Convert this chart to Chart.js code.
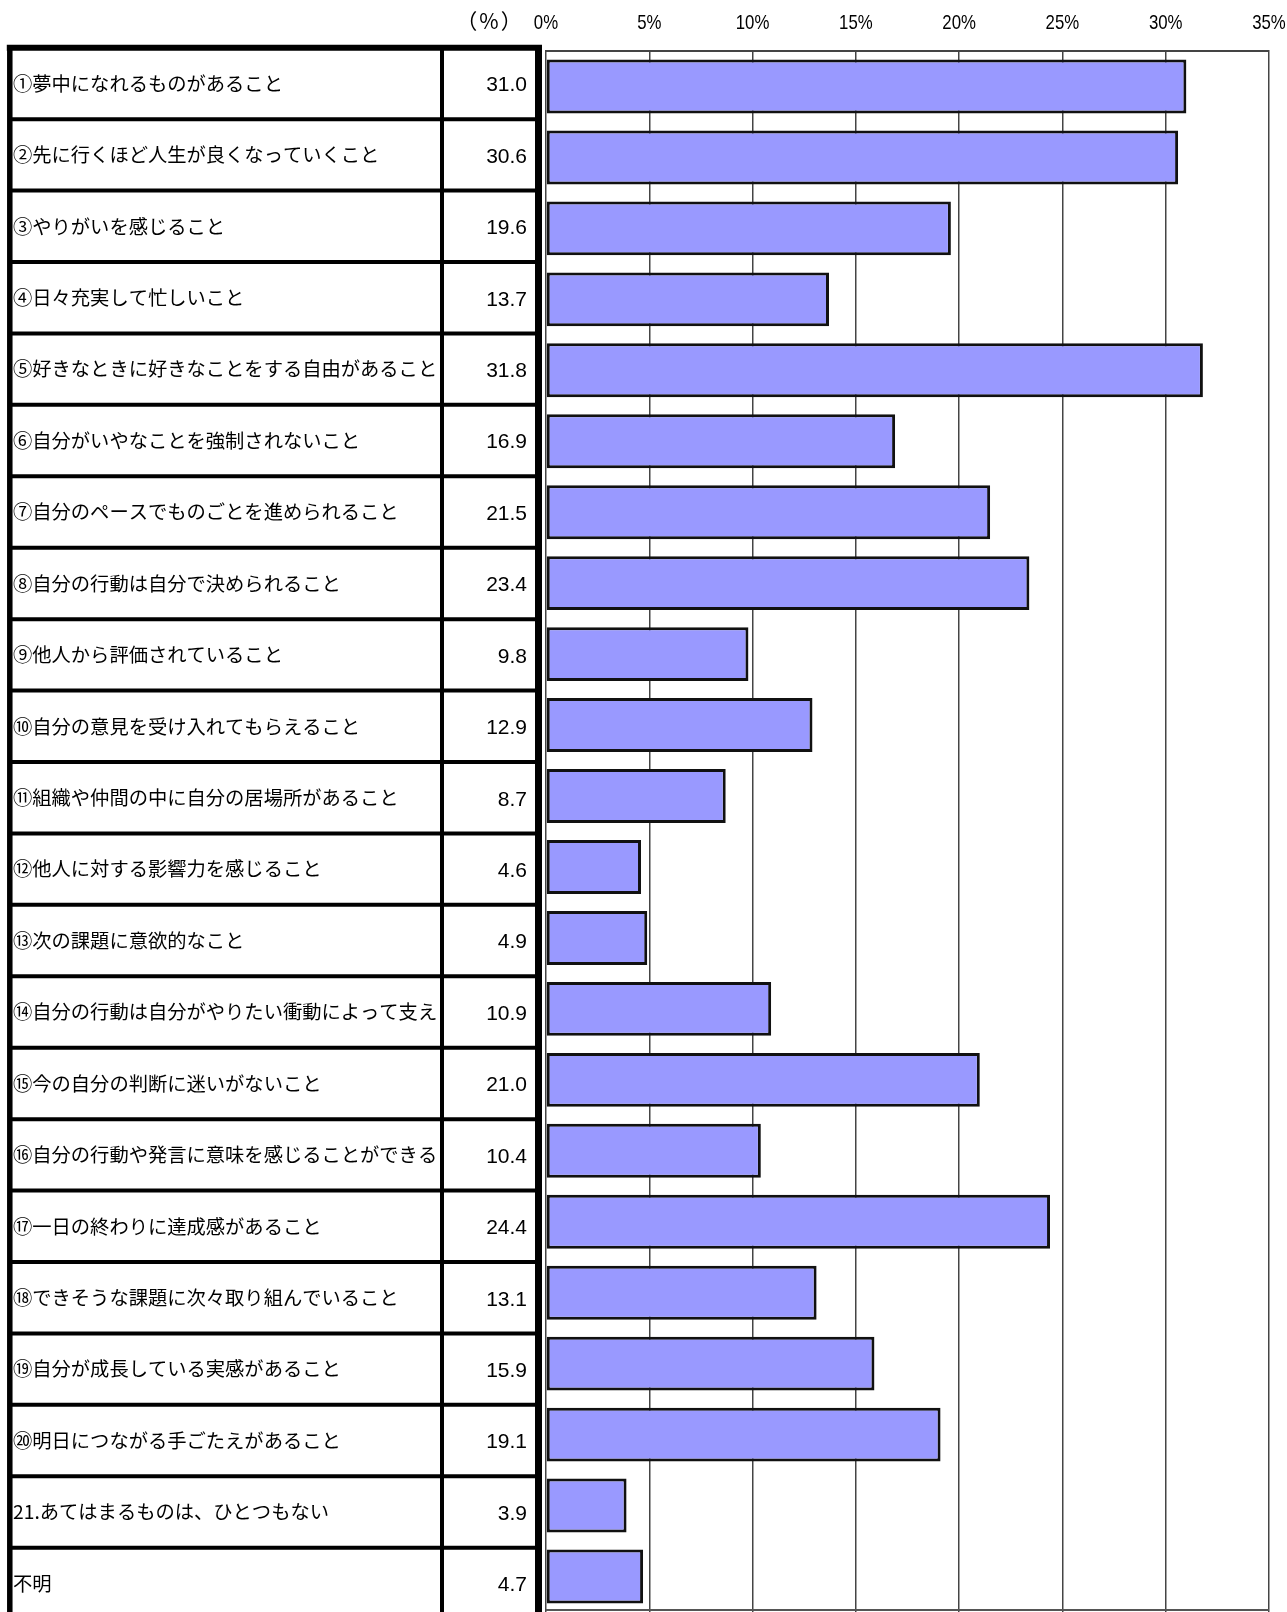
<!DOCTYPE html>
<html lang="ja">
<head>
<meta charset="utf-8">
<title>chart</title>
<script src="https://cdn.jsdelivr.net/npm/chart.js@4.4.1/dist/chart.umd.min.js"></script>
<style>
  html, body { margin: 0; padding: 0; background: #fff; }
  #wrap { width: 1287px; height: 1612px; position: relative; }
</style>
</head>
<body>
<div id="wrap"><canvas id="myChart" width="1287" height="1612"></canvas></div>
<script>
// items (row labels) as printed in the table
const labels = [
    '①夢中になれるものがあること',
    '②先に行くほど人生が良くなっていくこと',
    '③やりがいを感じること',
    '④日々充実して忙しいこと',
    '⑤好きなときに好きなことをする自由があること',
    '⑥自分がいやなことを強制されないこと',
    '⑦自分のペースでものごとを進められること',
    '⑧自分の行動は自分で決められること',
    '⑨他人から評価されていること',
    '⑩自分の意見を受け入れてもらえること',
    '⑪組織や仲間の中に自分の居場所があること',
    '⑫他人に対する影響力を感じること',
    '⑬次の課題に意欲的なこと',
    '⑭自分の行動は自分がやりたい衝動によって支えられていること',
    '⑮今の自分の判断に迷いがないこと',
    '⑯自分の行動や発言に意味を感じることができること',
    '⑰一日の終わりに達成感があること',
    '⑱できそうな課題に次々取り組んでいること',
    '⑲自分が成長している実感があること',
    '⑳明日につながる手ごたえがあること',
    '21.あてはまるものは、ひとつもない',
    '不明'
];

// percentages
const values = [
    31.0, 30.6, 19.6, 13.7, 31.8, 16.9, 21.5, 23.4, 9.8, 12.9, 8.7,
    4.6, 4.9, 10.9, 21.0, 10.4, 24.4, 13.1, 15.9, 19.1, 3.9, 4.7
];

const xTicks = [0, 5, 10, 15, 20, 25, 30, 35];
const unitLabel = '（%）';

const JP_FONT = "'Noto Sans CJK JP', 'Noto Sans', sans-serif";
const NUM_FONT = "'Liberation Sans', Arial, sans-serif";

// narrow tick labels on top of the x scale (the original uses a condensed face)
const tickLabelPlugin = {
    id: 'narrowTicks',
    afterDraw(chart) {
        const ctx = chart.ctx;
        const sx = chart.scales.x;
        ctx.save();
        ctx.fillStyle = '#000';
        ctx.font = '21px ' + NUM_FONT;
        ctx.textAlign = 'center';
        ctx.textBaseline = 'middle';
        xTicks.forEach(v => {
            const px = sx.getPixelForValue(v);
            ctx.save();
            ctx.translate(px, 23);
            ctx.scale(0.8, 1);
            ctx.fillText(v + '%', 0, 0);
            ctx.restore();
        });
        ctx.restore();
    }
};

// table on the left, drawn on the same canvas
const tablePlugin = {
    id: 'leftTable',
    afterDraw(chart) {
        const ctx = chart.ctx;
        const top = 47.7;
        const rowH = 71.43;
        const left = 9.8;
        const divX = 442;
        const right = 538.5;
        const bottom = chart.height + 10;

        ctx.save();
        ctx.strokeStyle = '#000';

        // row lines
        ctx.lineWidth = 4;
        for (let i = 1; i < labels.length; i++) {
            const y = top + i * rowH;
            ctx.beginPath();
            ctx.moveTo(left, y);
            ctx.lineTo(right, y);
            ctx.stroke();
        }
        // column divider
        ctx.beginPath();
        ctx.moveTo(divX, top);
        ctx.lineTo(divX, bottom);
        ctx.stroke();

        // outer borders
        ctx.lineWidth = 6;
        ctx.beginPath();
        ctx.moveTo(left - 3, top);
        ctx.lineTo(right + 3.5, top);
        ctx.stroke();
        ctx.lineWidth = 5.5;
        ctx.beginPath();
        ctx.moveTo(left, top);
        ctx.lineTo(left, bottom);
        ctx.stroke();
        ctx.lineWidth = 7;
        ctx.beginPath();
        ctx.moveTo(right, top);
        ctx.lineTo(right, bottom);
        ctx.stroke();

        // texts
        ctx.fillStyle = '#000';
        for (let i = 0; i < labels.length; i++) {
            const cy = top + (i + 0.5) * rowH;

            ctx.save();
            ctx.beginPath();
            ctx.rect(left + 3, cy - rowH / 2, divX - 2 - left - 3, rowH);
            ctx.clip();
            ctx.font = '19.3px ' + JP_FONT;
            ctx.textAlign = 'left';
            ctx.textBaseline = 'middle';
            ctx.fillText(labels[i], 13, cy);
            ctx.restore();

            ctx.font = '21px ' + NUM_FONT;
            ctx.textAlign = 'right';
            ctx.textBaseline = 'middle';
            ctx.fillText(values[i].toFixed(1), 527, cy + 2);
        }

        // unit label above the value column
        ctx.font = '21px ' + JP_FONT;
        ctx.textAlign = 'center';
        ctx.textBaseline = 'middle';
        ctx.letterSpacing = '2px';
        ctx.fillText(unitLabel, 490, 21);
        ctx.letterSpacing = '0px';

        // bottom edge of plot area
        const a = chart.chartArea;
        ctx.strokeStyle = '#555';
        ctx.lineWidth = 2;
        ctx.beginPath();
        ctx.moveTo(a.left, 1610);
        ctx.lineTo(a.right, 1610);
        ctx.stroke();
        ctx.restore();
    }
};

const data = {
    labels: labels,
    datasets: [{
        data: values,
        backgroundColor: '#9999ff',
        borderColor: '#111',
        borderWidth: 3,
        borderSkipped: false,
        barPercentage: 0.76,
        categoryPercentage: 1.0
    }]
};

const config = {
    type: 'bar',
    data: data,
    options: {
        indexAxis: 'y',
        responsive: false,
        animation: false,
        layout: {
            padding: { left: 546, right: 18, top: 0, bottom: 0 }
        },
        plugins: {
            legend: { display: false },
            tooltip: { enabled: false }
        },
        scales: {
            x: {
                position: 'top',
                min: 0,
                max: 35,
                afterBuildTicks: (scale) => {
                    scale.ticks = xTicks.map(v => ({ value: v }));
                },
                afterFit: (scale) => {
                    scale.height = 51;
                    scale.paddingLeft = 0;
                    scale.paddingRight = 0;
                },
                ticks: {
                    display: false
                },
                grid: {
                    color: '#444',
                    lineWidth: 1.5,
                    drawTicks: false
                },
                border: { display: true, color: '#444', width: 2 }
            },
            y: {
                display: false
            }
        }
    },
    plugins: [tablePlugin, tickLabelPlugin]
};

const myChart = new Chart(document.getElementById('myChart'), config);
</script>
</body>
</html>
